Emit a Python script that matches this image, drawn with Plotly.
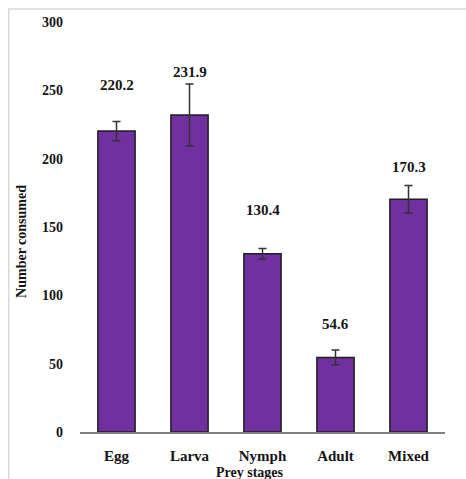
import plotly.graph_objects as go

categories = ["Egg", "Larva", "Nymph", "Adult", "Mixed"]
values = [220.2, 231.9, 130.4, 54.6, 170.3]
errors = [7.0, 22.7, 3.8, 5.4, 10.0]
value_labels = ["220.2", "231.9", "130.4", "54.6", "170.3"]
label_shift_px = [46, 43, 44, 33, 32]
y_ticks = [0, 50, 100, 150, 200, 250, 300]

FONT = "Liberation Serif"
TXT = "#141414"

fig = go.Figure()
fig.add_trace(go.Bar(
    x=categories, y=values,
    marker=dict(color="#7030A0", line=dict(color="#1f1f1f", width=1.5)),
    error_y=dict(type="data", array=errors, visible=True,
                 color="#333333", thickness=1.5, width=4),
    width=0.51,
    hoverinfo="skip",
))

for c, v, t, s in zip(categories, values, value_labels, label_shift_px):
    fig.add_annotation(x=c, y=v, text=f"<b>{t}</b>", showarrow=False,
                       yshift=s, xref="x", yref="y",
                       font=dict(family=FONT, size=15, color=TXT))

fig.add_annotation(text="<b>Number consumed</b>", textangle=-90,
                   x=-0.159, y=0.466, xref="paper", yref="paper",
                   xanchor="center", yanchor="middle",
                   showarrow=False, font=dict(family=FONT, size=14, color=TXT))
fig.add_annotation(text="<b>Prey stages</b>",
                   x=0.466, y=-0.0976, xref="paper", yref="paper",
                   xanchor="center", yanchor="middle",
                   showarrow=False, font=dict(family=FONT, size=14, color=TXT))

fig.add_shape(type="rect", xref="paper", yref="paper",
              x0=-0.195, x1=1.3, y0=-0.3, y1=1.032,
              line=dict(color="#d9d9d9", width=1.5), layer="below")

fig.update_layout(
    width=466, height=479,
    margin=dict(l=80, r=21, t=22, b=47),
    paper_bgcolor="white", plot_bgcolor="white",
    showlegend=False,
    xaxis=dict(showline=True, linecolor="#808080", linewidth=2,
               ticks="", showgrid=False, ticklabelstandoff=9,
               tickfont=dict(family=FONT, size=15, color=TXT)),
    yaxis=dict(range=[0, 300], tickvals=y_ticks,
               ticktext=[f"<b>{t}</b>" for t in y_ticks],
               showline=False, showgrid=False, zeroline=False, ticks="",
               ticklabelstandoff=16,
               tickfont=dict(family=FONT, size=14, color=TXT)),
)
fig.update_xaxes(tickvals=categories, ticktext=[f"<b>{c}</b>" for c in categories])

fig.write_html("out.html",
               config={"displayModeBar": False},
               post_script="document.body.style.margin='0';document.body.style.overflow='hidden';")
